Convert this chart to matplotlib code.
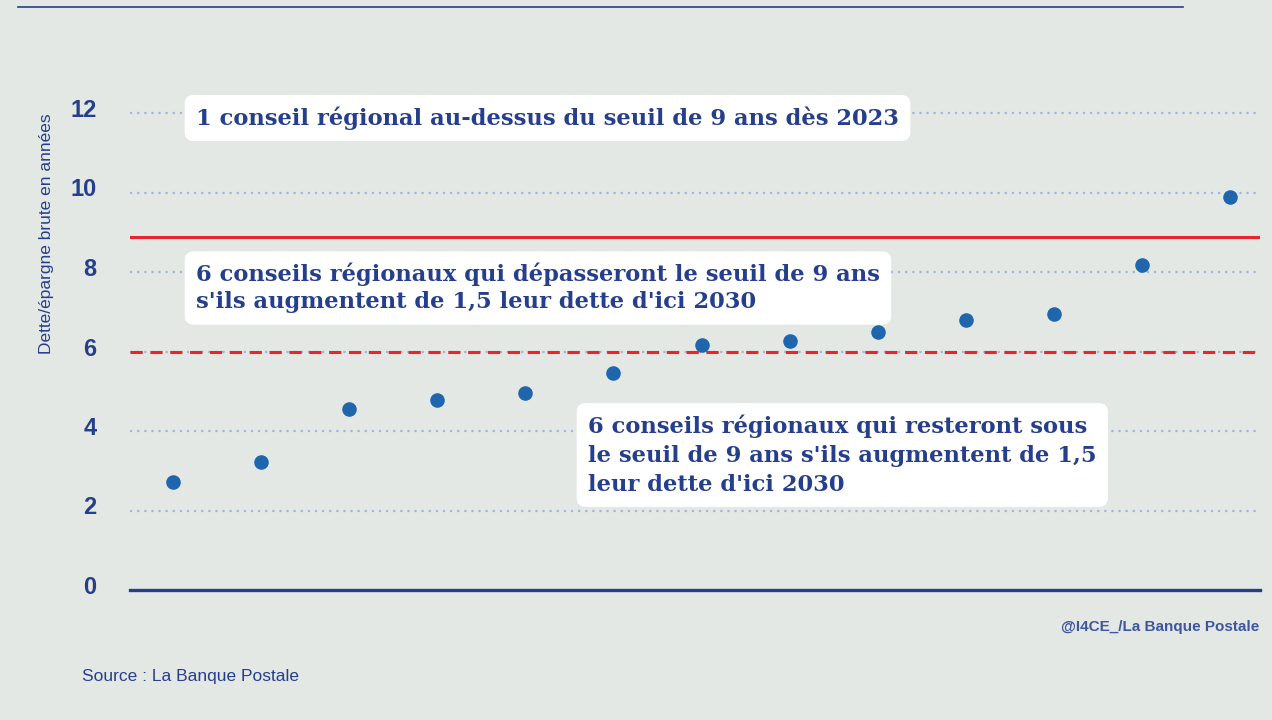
import matplotlib.pyplot as plt
from matplotlib.transforms import ScaledTranslation

# data
regions = list(range(13))
ratio = [2.72, 3.22, 4.55, 4.78, 4.96, 5.46, 6.16, 6.26, 6.49, 6.79, 6.94, 8.18, 9.89]
seuil_haut = 8.87
seuil_bas = 6.0
yticks = [0, 2, 4, 6, 8, 10, 12]

notes = [
    "1 conseil régional au-dessus du seuil de 9 ans dès 2023",
    "6 conseils régionaux qui dépasseront le seuil de 9 ans\ns'ils augmentent de 1,5 leur dette d'ici 2030",
    "6 conseils régionaux qui resteront sous\nle seuil de 9 ans s'ils augmentent de 1,5\nleur dette d'ici 2030",
]

bg = "#e3e8e5"
navy = "#263f8c"
dot = "#1f66ad"
red = "#e8252a"
grid = "#a3b3df"

W, H = 1272, 720
fig = plt.figure(figsize=(W / 100, H / 100), dpi=100, facecolor=bg)
ax = fig.add_axes([130 / W, (H - 590) / H, (1260 - 130) / W, 490 / H])
ax.set_facecolor(bg)

# gridlines
for t in yticks[1:]:
    ax.axhline(t, color=grid, lw=1.6, ls=(0, (1, 2.2)), zorder=1)
ax.axhline(0, color=navy, lw=2.4, zorder=2, clip_on=False)
ax.axhline(seuil_haut, color=red, lw=2.2, zorder=2)
ax.axhline(seuil_bas, color=red, lw=2.2, ls=(0, (4, 2.5)), zorder=2)

ax.scatter(regions, ratio, s=110, color=dot, zorder=4, linewidths=0)

ax.set_xlim(-0.488, 12.34)
ax.set_ylim(0, 490 / 39.75)
ax.set_xticks([])
ax.set_yticks(yticks)
ax.set_yticklabels([str(t) for t in yticks], fontsize=17, fontweight="bold",
                   color=navy, family="Liberation Sans")
ax.tick_params(axis="y", length=0, pad=24)
shift = ScaledTranslation(0, 5 / 100, fig.dpi_scale_trans)
for lab in ax.get_yticklabels():
    lab.set_transform(lab.get_transform() + shift)
for s in ax.spines.values():
    s.set_visible(False)

fig.text(47 / W, 1 - 234 / H, "Dette/épargne brute en années", rotation=90,
         ha="center", va="center", fontsize=12.5, color=navy, family="Liberation Sans")

# annotation boxes
box = dict(boxstyle="round,pad=0.5,rounding_size=0.4", fc="white", ec="none")
fs = 16.3
fig.text(196 / W, 1 - 118 / H, notes[0], fontsize=fs, fontweight="bold", color=navy,
         family="DejaVu Serif", ha="left", va="center", bbox=box, zorder=5)
fig.text(196 / W, 1 - 288 / H, notes[1], fontsize=fs, fontweight="bold", color=navy,
         family="DejaVu Serif", ha="left", va="center", bbox=box, linespacing=1.3, zorder=5)
fig.text(588 / W, 1 - 455 / H, notes[2], fontsize=fs, fontweight="bold", color=navy,
         family="DejaVu Serif", ha="left", va="center", bbox=box, linespacing=1.4, zorder=5)

# top rule and credits
fig.add_artist(plt.Line2D([18 / W, 1183 / W], [1 - 7 / H, 1 - 7 / H], color=navy, lw=1.2))
fig.text(1259 / W, 1 - 627 / H, "@I4CE_/La Banque Postale", ha="right", va="center",
         fontsize=11, fontweight="bold", color="#3f55a0", family="Liberation Sans")
fig.text(82 / W, 1 - 676 / H, "Source : La Banque Postale", ha="left", va="center",
         fontsize=12.5, color=navy, family="Liberation Sans")

fig.savefig("out.png", dpi=100, facecolor=bg)
